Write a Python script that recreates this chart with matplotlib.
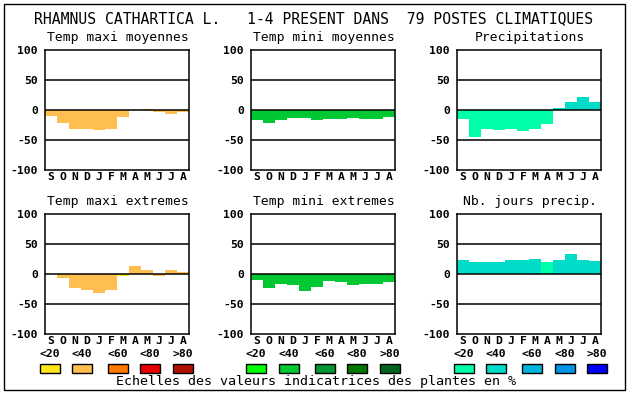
import matplotlib
matplotlib.use("Agg")
import matplotlib.pyplot as plt
from matplotlib.patches import Rectangle

W, H = 630, 394

title = "RHAMNUS CATHARTICA L.   1-4 PRESENT DANS  79 POSTES CLIMATIQUES"
months = ["S", "O", "N", "D", "J", "F", "M", "A", "M", "J", "J", "A"]
legend_labels = ["<20", "<40", "<60", "<80", ">80"]
footer = "Echelles des valeurs indicatrices des plantes en %"

# colour scales (temp maxi, temp mini, precipitation)
warm_colors = ["#ffe619", "#ffbe50", "#ff7800", "#e80000", "#b01000"]
green_colors = ["#00ff00", "#00c832", "#009632", "#007800", "#006420"]
blue_colors = ["#00ffaa", "#00dcc8", "#00b4dc", "#0096e6", "#0000ff"]

panel_titles = ["Temp maxi moyennes", "Temp mini moyennes", "Precipitations",
                "Temp maxi extremes", "Temp mini extremes", "Nb. jours precip."]

tmax_moy = [-10, -22, -32, -32, -34, -31, -12, 0, 2, -4, -6, -4]
tmin_moy = [-17, -22, -17, -14, -14, -17, -15, -15, -14, -15, -15, -12]
precip = [-15, -45, -32, -34, -31, -35, -32, -24, 4, 14, 21, 14]
tmax_ext = [0, -6, -24, -26, -31, -26, -4, 13, 7, -3, 7, 4]
tmin_ext = [-10, -24, -16, -18, -28, -21, -11, -14, -18, -16, -16, -14]
nb_jours = [23, 20, 20, 20, 23, 23, 25, 20, 23, 33, 23, 22]

# colour class of each bar (index in the scale)
tmax_moy_cls = [1] * 12
tmin_moy_cls = [1] * 12
precip_cls = [0, 0, 0, 0, 0, 0, 0, 0, 1, 1, 1, 1]
tmax_ext_cls = [1, 1, 1, 1, 1, 1, 0, 1, 1, 1, 1, 1]
tmin_ext_cls = [1] * 12
nb_jours_cls = [1, 1, 1, 1, 1, 1, 1, 0, 1, 1, 1, 1]

panels = [
    (tmax_moy, tmax_moy_cls, warm_colors),
    (tmin_moy, tmin_moy_cls, green_colors),
    (precip, precip_cls, blue_colors),
    (tmax_ext, tmax_ext_cls, warm_colors),
    (tmin_ext, tmin_ext_cls, green_colors),
    (nb_jours, nb_jours_cls, blue_colors),
]

MONO = "DejaVu Sans Mono"


def fx(x):
    return x / W


def fy(y):
    return 1 - y / H


fig = plt.figure(figsize=(W / 100, H / 100), dpi=100)
fig.patch.set_facecolor("white")

# outer frame
fig.add_artist(Rectangle((fx(4), fy(390)), fx(621), 386 / H, transform=fig.transFigure,
                         fill=False, edgecolor="black", linewidth=1))

fig.text(fx(314), fy(19), title, ha="center", va="center", family=MONO, fontsize=10.6)

col_left = [45, 251, 457]
row_top = [50, 214]
aw, ah = 144, 120

for i, (vals, cls, scale) in enumerate(panels):
    r, c = divmod(i, 3)
    left, top = col_left[c], row_top[r]
    ax = fig.add_axes([fx(left), fy(top + ah), aw / W, ah / H])
    ax.bar(range(12), vals, width=1, align="edge",
           color=[scale[k] for k in cls], linewidth=0, zorder=2)
    for yv in (-50, 0, 50):
        ax.axhline(yv, color="black", linewidth=1.1, zorder=3)
    ax.set_xlim(0, 12)
    ax.set_ylim(-100, 100)
    ax.set_yticks([-100, -50, 0, 50, 100])
    ax.set_yticklabels(["-100", "-50", "0", "50", "100"], family=MONO,
                       fontweight="bold", fontsize=8.2)
    ax.set_xticks([k + 0.5 for k in range(12)])
    ax.set_xticklabels(months, family=MONO, fontweight="bold", fontsize=8.2)
    ax.tick_params(length=0, pad=1.5, axis="x")
    ax.tick_params(length=0, pad=5, axis="y")
    for sp in ax.spines.values():
        sp.set_linewidth(1.1)
        sp.set_color("black")
    fig.text(fx(left + aw / 2 + 1), fy(top - 12), panel_titles[i], ha="center",
             va="center", family=MONO, fontsize=9.4)

# legend scales
box_lefts = [[40, 72, 108, 140, 173], [246, 279, 315, 347, 380], [454, 486, 522, 555, 587]]
for scale, lefts in zip([warm_colors, green_colors, blue_colors], box_lefts):
    for col, lab, bx in zip(scale, legend_labels, lefts):
        fig.add_artist(Rectangle((fx(bx), fy(373)), 20 / W, 9 / H, transform=fig.transFigure,
                                 facecolor=col, edgecolor="black", linewidth=1))
        fig.text(fx(bx + 10), fy(354), lab, ha="center", va="center", family=MONO,
                 fontweight="bold", fontsize=8.2)

fig.text(fx(316), fy(382), footer, ha="center", va="center", family=MONO, fontsize=9.6)

fig.savefig("out.png", dpi=100)
